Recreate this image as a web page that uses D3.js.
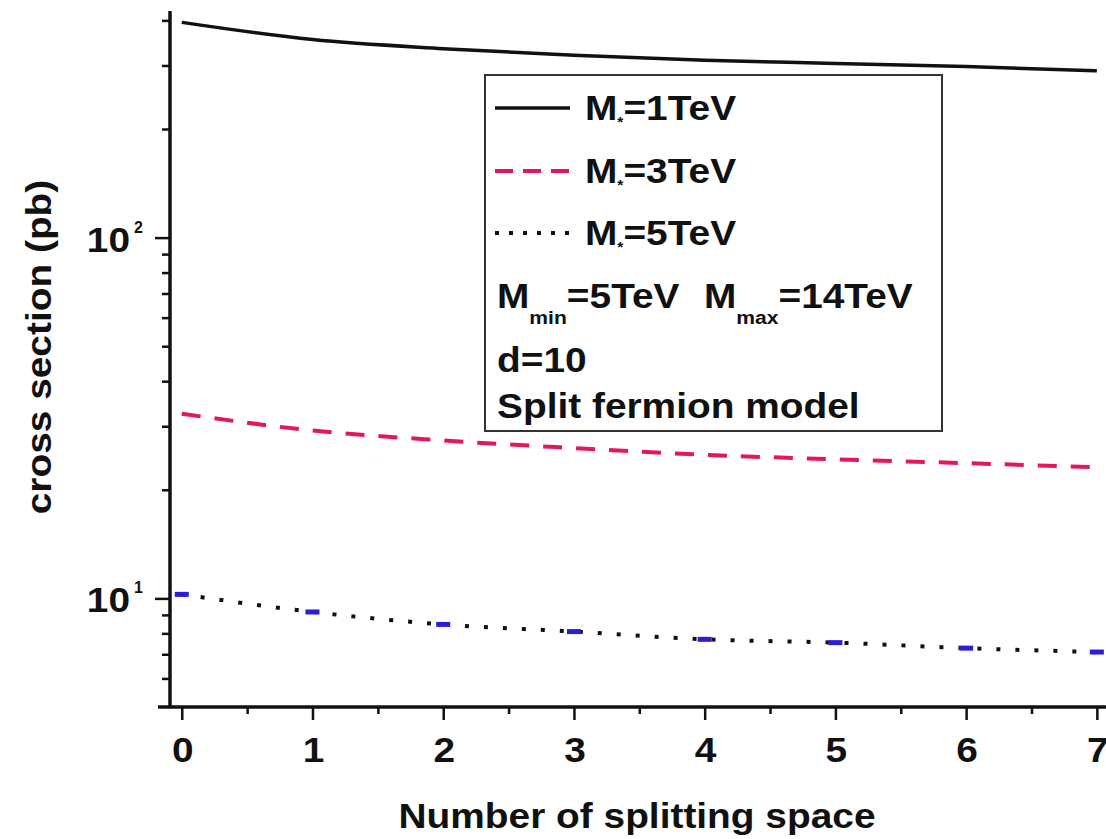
<!DOCTYPE html>
<html>
<head>
<meta charset="utf-8">
<script src="https://cdn.jsdelivr.net/npm/d3@7"></script>
<style>
  body { margin: 0; background: #fff; }
  text { font-family: "Liberation Sans", Arial, sans-serif; font-weight: bold; fill: #111; }
</style>
</head>
<body>
<svg id="chart" width="1106" height="839"></svg>
<script>
// values
const splitN = [0, 1, 2, 3, 4, 5, 6, 7];
const sigma1TeV = [395, 354, 334, 320, 310, 304, 298, 290];
const sigma3TeV = [32.5, 29.2, 27.4, 26.1, 25.0, 24.3, 23.7, 23.1];
const sigma5TeV = [10.26, 9.17, 8.47, 8.09, 7.70, 7.54, 7.28, 7.10];

const xMajor = [0, 1, 2, 3, 4, 5, 6, 7];
const xMinor = [0.5, 1.5, 2.5, 3.5, 4.5, 5.5, 6.5];
const yMajor = [10, 100];
const yMinor = [6, 7, 8, 9, 20, 30, 40, 50, 60, 70, 80, 90, 200, 300, 400];
const yMajorExp = ["1", "2"];

const svg = d3.select("#chart");
const wide = 1.11;   // the original font is wider than Arial

const x = d3.scaleLinear().domain([-0.09, 7.2]).range([170, 1123]);
const y = d3.scaleLog().domain([5, 422]).range([707, 12]);

// axes
const axes = svg.append("g");

axes.append("g")
  .attr("transform", "translate(0,707)")
  .call(d3.axisBottom(x).tickValues(xMinor).tickSize(7).tickFormat(""))
  .call(g => g.select(".domain").remove());
axes.append("g")
  .attr("transform", "translate(0,707)")
  .call(d3.axisBottom(x).tickValues(xMajor).tickSize(13).tickFormat(""))
  .call(g => g.select(".domain").remove());
axes.append("g")
  .attr("transform", "translate(170,0)")
  .call(d3.axisLeft(y).tickValues(yMinor).tickSize(8).tickFormat(""))
  .call(g => g.select(".domain").remove());
axes.append("g")
  .attr("transform", "translate(170,0)")
  .call(d3.axisLeft(y).tickValues(yMajor).tickSize(15).tickFormat(""))
  .call(g => g.select(".domain").remove());
axes.selectAll(".tick line").attr("stroke", "#111").attr("stroke-width", 2.5);

axes.append("line").attr("x1", 170).attr("x2", 170).attr("y1", 11).attr("y2", 708)
  .attr("stroke", "#111").attr("stroke-width", 3.5);
axes.append("line").attr("x1", 158).attr("x2", 1106).attr("y1", 707).attr("y2", 707)
  .attr("stroke", "#111").attr("stroke-width", 3.5);

// x tick labels (the last one runs off the edge, as in the original)
axes.selectAll(".xlab").data(xMajor).join("text")
  .attr("class", "xlab")
  .attr("transform", d => `translate(${x(d) + 1},762) scale(${wide},1)`)
  .attr("text-anchor", "middle")
  .style("font-size", "35px")
  .text(d => d);

// y tick labels 10^n
yMajor.forEach((v, i) => {
  axes.append("text")
    .attr("transform", `translate(130,${y(v) + 14}) scale(${wide},1)`)
    .attr("text-anchor", "end")
    .style("font-size", "35px")
    .text("10");
  axes.append("text")
    .attr("x", 134).attr("y", y(v) - 5)
    .style("font-size", "16px")
    .text(yMajorExp[i]);
});

// axis titles
svg.append("text")
  .attr("transform", `translate(637,828) scale(${wide},1)`)
  .attr("text-anchor", "middle")
  .style("font-size", "35px")
  .text("Number of splitting space");

svg.append("text")
  .attr("transform", `translate(51,347) rotate(-90) scale(${wide},1)`)
  .attr("text-anchor", "middle")
  .style("font-size", "35px")
  .text("cross section (pb)");

// curves
const line = d3.line()
  .x((d, i) => x(splitN[i]))
  .y(d => y(d))
  .curve(d3.curveMonotoneX);

const plot = svg.append("g");

plot.append("path").datum(sigma1TeV)
  .attr("d", line)
  .attr("fill", "none").attr("stroke", "#111").attr("stroke-width", 3.5);

plot.append("path").datum(sigma3TeV)
  .attr("d", line)
  .attr("fill", "none").attr("stroke", "#e3175a").attr("stroke-width", 4)
  .attr("stroke-dasharray", "19 14");

plot.append("path").datum(sigma5TeV)
  .attr("d", line)
  .attr("fill", "none").attr("stroke", "#111").attr("stroke-width", 4)
  .attr("stroke-dasharray", "4 15");

// blue marks on the dotted series
plot.selectAll(".mark5").data(sigma5TeV).join("rect")
  .attr("class", "mark5")
  .attr("x", (d, i) => x(splitN[i]) - 7)
  .attr("y", d => y(d) - 2.5)
  .attr("width", 14).attr("height", 5)
  .attr("fill", "#2a1fd8");

// legend box
const leg = svg.append("g");
leg.append("rect")
  .attr("x", 485).attr("y", 75).attr("width", 457).attr("height", 356)
  .attr("fill", "#fff").attr("stroke", "#333").attr("stroke-width", 2);

const legendRows = [
  {label: "1TeV", dash: null, color: "#111", base: 120},
  {label: "3TeV", dash: "18 10", color: "#e3175a", base: 183},
  {label: "5TeV", dash: "4 10", color: "#111", base: 245}
];
legendRows.forEach(r => {
  leg.append("line")
    .attr("x1", 495).attr("x2", 570)
    .attr("y1", r.base - 12).attr("y2", r.base - 12)
    .attr("stroke", r.color).attr("stroke-width", r.dash ? 4 : 3.5)
    .attr("stroke-dasharray", r.dash);
  const t = leg.append("text")
    .attr("transform", `translate(585,${r.base}) scale(${wide},1)`)
    .style("font-size", "35px");
  t.append("tspan").text("M");
  t.append("tspan").attr("dy", 7).style("font-size", "14px").text("*");
  t.append("tspan").attr("dy", -7).text("=" + r.label);
});

const row4 = leg.append("text")
  .attr("transform", `translate(497,308) scale(${wide},1)`)
  .style("font-size", "35px");
row4.append("tspan").text("M");
row4.append("tspan").attr("dy", 16).style("font-size", "19px").text("min");
row4.append("tspan").attr("dy", -16).text("=5TeV");
row4.append("tspan").attr("dx", 22).text("M");
row4.append("tspan").attr("dy", 16).style("font-size", "19px").text("max");
row4.append("tspan").attr("dy", -16).text("=14TeV");

leg.append("text")
  .attr("transform", `translate(497,372) scale(${wide},1)`)
  .style("font-size", "35px")
  .text("d=10");

leg.append("text")
  .attr("transform", `translate(497,418) scale(${wide},1)`)
  .style("font-size", "35px")
  .text("Split fermion model");
</script>
</body>
</html>
